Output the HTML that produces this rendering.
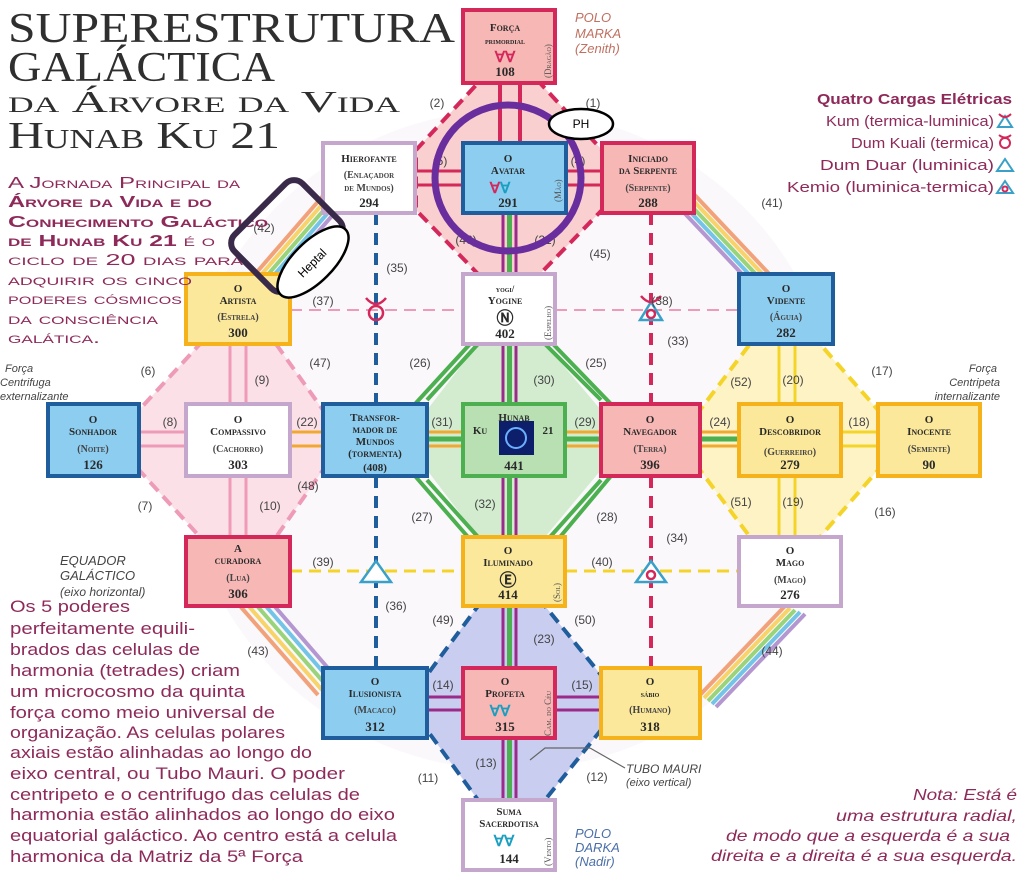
<!DOCTYPE html>
<html><head><meta charset="utf-8">
<style>
html,body{margin:0;padding:0;background:#fff;}
svg{display:block;}
.n{font-family:"Liberation Serif",serif;font-weight:bold;font-size:11px;fill:#2a2a2a;text-anchor:middle;font-variant:small-caps;}
.s{font-family:"Liberation Serif",serif;font-size:10px;fill:#444;text-anchor:middle;font-variant:small-caps;}
.num{font-family:"Liberation Sans",sans-serif;font-size:12px;fill:#444;text-anchor:middle;}
.lb{font-family:"Liberation Sans",sans-serif;font-size:12px;fill:#555;}
.vt{font-family:"Liberation Serif",serif;font-size:9px;fill:#555;font-variant:small-caps;}
.t{font-family:"Liberation Serif",serif;fill:#2f2f2f;}
.pp{font-family:"Liberation Sans",sans-serif;fill:#8e2a5a;}
</style></head><body>
<svg width="1026" height="873" viewBox="0 0 1026 873" xmlns="http://www.w3.org/2000/svg">
<rect width="1026" height="873" fill="#fff"/>
<ellipse cx="510" cy="440" rx="330" ry="330" fill="#fbf8fb"/>

<!-- octagon fills -->
<polygon points="478,83 540,83 602,150 602,210 540,274 478,274 416,210 416,150" fill="#f9cfcf" stroke="#d4285a" stroke-width="4" stroke-dasharray="12,7"/>
<polygon points="200,344 276,344 323,410 323,470 276,537 200,537 139,470 139,410" fill="#fbe0e8" stroke="#ee9bb8" stroke-width="4" stroke-dasharray="12,7"/>
<polygon points="478,344 545,344 601,410 601,470 545,537 478,537 427,470 427,410" fill="#d3ecd0"/>
<g fill="none" stroke="#4caf50" stroke-width="4">
<polyline points="478,344 427,400"/><polyline points="470,344 415,404"/>
<polyline points="545,344 601,400"/><polyline points="553,344 611,404"/>
<polyline points="427,480 478,537"/><polyline points="415,476 468,537"/>
<polyline points="601,480 550,537"/><polyline points="611,476 560,537"/>
</g>
<polygon points="750,344 820,344 878,410 878,470 820,537 750,537 700,470 700,410" fill="#fdf3c4" stroke="#f5d42a" stroke-width="4" stroke-dasharray="12,7"/>
<polygon points="478,606 545,606 601,675 601,730 545,800 478,800 427,730 427,675" fill="#c9cdef" stroke="#1f5d9c" stroke-width="4" stroke-dasharray="12,7"/>

<!-- rainbows -->
<g stroke-width="4" fill="none">
<line x1="250" y1="280" x2="328" y2="190" stroke="#f2a27a"/><line x1="254" y1="283" x2="332" y2="193" stroke="#f7d36a"/><line x1="258" y1="286" x2="336" y2="196" stroke="#9ad47a"/><line x1="262" y1="289" x2="340" y2="199" stroke="#74c4e8"/><line x1="266" y1="292" x2="344" y2="202" stroke="#b497d0"/>
<line x1="775" y1="280" x2="690" y2="190" stroke="#f2a27a"/><line x1="771" y1="283" x2="686" y2="193" stroke="#f7d36a"/><line x1="767" y1="286" x2="682" y2="196" stroke="#9ad47a"/><line x1="763" y1="289" x2="678" y2="199" stroke="#74c4e8"/><line x1="759" y1="292" x2="674" y2="202" stroke="#b497d0"/>
<line x1="240" y1="606" x2="318" y2="695" stroke="#f2a27a"/><line x1="246" y1="603" x2="322" y2="690" stroke="#f7d36a"/><line x1="252" y1="600" x2="326" y2="685" stroke="#9ad47a"/><line x1="258" y1="597" x2="330" y2="680" stroke="#74c4e8"/><line x1="264" y1="594" x2="334" y2="675" stroke="#b497d0"/>
<line x1="785" y1="606" x2="700" y2="695" stroke="#f2a27a"/><line x1="790" y1="608" x2="704" y2="698" stroke="#f7d36a"/><line x1="795" y1="610" x2="708" y2="701" stroke="#9ad47a"/><line x1="800" y1="612" x2="712" y2="704" stroke="#74c4e8"/><line x1="805" y1="614" x2="716" y2="707" stroke="#b497d0"/>
</g>

<!-- connectors -->
<g fill="none">
<line x1="500" y1="83" x2="500" y2="143" stroke="#d4285a" stroke-width="4"/><line x1="520" y1="83" x2="520" y2="143" stroke="#d4285a" stroke-width="4"/>
<line x1="415" y1="171" x2="463" y2="171" stroke="#d4285a" stroke-width="3"/><line x1="415" y1="185" x2="463" y2="185" stroke="#d4285a" stroke-width="3"/>
<line x1="566" y1="171" x2="602" y2="171" stroke="#d4285a" stroke-width="3"/><line x1="566" y1="185" x2="602" y2="185" stroke="#d4285a" stroke-width="3"/>
<line x1="503" y1="213" x2="503" y2="800" stroke="#9b2b8a" stroke-width="3"/><line x1="516" y1="213" x2="516" y2="800" stroke="#9b2b8a" stroke-width="3"/><line x1="509.5" y1="213" x2="509.5" y2="800" stroke="#4caf50" stroke-width="5"/>
<line x1="290" y1="310" x2="463" y2="310" stroke="#ee9bb8" stroke-width="2" stroke-dasharray="12,7"/><line x1="555" y1="310" x2="739" y2="310" stroke="#ee9bb8" stroke-width="2" stroke-dasharray="12,7"/>
<line x1="290" y1="571" x2="463" y2="571" stroke="#f5d42a" stroke-width="3" stroke-dasharray="12,7"/><line x1="565" y1="571" x2="739" y2="571" stroke="#f5d42a" stroke-width="3" stroke-dasharray="12,7"/>
<line x1="376" y1="213" x2="376" y2="404" stroke="#1f5d9c" stroke-width="4" stroke-dasharray="12,8"/><line x1="376" y1="476" x2="376" y2="668" stroke="#1f5d9c" stroke-width="4" stroke-dasharray="12,8"/>
<line x1="651" y1="213" x2="651" y2="404" stroke="#d4285a" stroke-width="4" stroke-dasharray="12,8"/><line x1="651" y1="476" x2="651" y2="668" stroke="#d4285a" stroke-width="4" stroke-dasharray="12,8"/>
<g stroke="#f0a830" stroke-width="3"><line x1="290" y1="432" x2="878" y2="432"/><line x1="290" y1="446" x2="878" y2="446"/></g>
<line x1="427" y1="439" x2="739" y2="439" stroke="#4caf50" stroke-width="5"/>
<g stroke="#ee9bb8" stroke-width="3"><line x1="139" y1="432" x2="186" y2="432"/><line x1="139" y1="446" x2="186" y2="446"/>
<line x1="230" y1="344" x2="230" y2="404"/><line x1="246" y1="344" x2="246" y2="404"/><line x1="230" y1="476" x2="230" y2="537"/><line x1="246" y1="476" x2="246" y2="537"/></g>
<g stroke="#f5d42a" stroke-width="3"><line x1="779" y1="344" x2="779" y2="404"/><line x1="795" y1="344" x2="795" y2="404"/><line x1="779" y1="476" x2="779" y2="537"/><line x1="795" y1="476" x2="795" y2="537"/>
<line x1="841" y1="432" x2="878" y2="432"/><line x1="841" y1="446" x2="878" y2="446"/></g>
<g stroke="#9b2b8a" stroke-width="3"><line x1="427" y1="697" x2="463" y2="697"/><line x1="427" y1="710" x2="463" y2="710"/><line x1="555" y1="697" x2="601" y2="697"/><line x1="555" y1="710" x2="601" y2="710"/></g>
<polyline points="590,748 545,748 530,760" stroke="#666" stroke-width="1.2"/><line x1="590" y1="748" x2="625" y2="768" stroke="#666" stroke-width="1.2"/>
</g>

<!-- charge symbols -->
<g fill="none" stroke-width="2.5">
<circle cx="376" cy="313" r="7" stroke="#d4285a"/><path d="M366,298 Q376,310 386,298" stroke="#d4285a"/>
<polygon points="651,302 640,320 662,320" stroke="#3aa0c8" fill="#fff"/><circle cx="651" cy="314" r="4" stroke="#d4285a"/><path d="M641,296 Q651,308 661,296" stroke="#d4285a"/>
<polygon points="376,561 361,582 391,582" stroke="#3aa0c8" fill="#fff"/>
<polygon points="651,561 636,582 666,582" stroke="#3aa0c8" fill="#fff"/><circle cx="651" cy="575" r="4" stroke="#d4285a"/>
</g>

<!-- nodes -->
<g stroke-width="4">
<rect x="463" y="10" width="92" height="73" fill="#f7b7b5" stroke="#d4285a"/>
<rect x="323" y="143" width="92" height="70" fill="#fff" stroke="#c5a6cc"/>
<rect x="463" y="143" width="103" height="70" fill="#8dcdf0" stroke="#1f5d9c"/>
<rect x="602" y="143" width="92" height="70" fill="#f7b7b5" stroke="#d4285a"/>
<rect x="186" y="274" width="104" height="70" fill="#fbe89a" stroke="#f5b21b"/>
<rect x="463" y="274" width="92" height="70" fill="#fff" stroke="#c5a6cc"/>
<rect x="739" y="274" width="94" height="70" fill="#8dcdf0" stroke="#1f5d9c"/>
<rect x="48" y="404" width="91" height="72" fill="#8dcdf0" stroke="#1f5d9c"/>
<rect x="186" y="404" width="104" height="72" fill="#fff" stroke="#c5a6cc"/>
<rect x="323" y="404" width="104" height="72" fill="#8dcdf0" stroke="#1f5d9c"/>
<rect x="463" y="404" width="102" height="72" fill="#b8e0b2" stroke="#4caf50"/>
<rect x="601" y="404" width="99" height="72" fill="#f7b7b5" stroke="#d4285a"/>
<rect x="739" y="404" width="102" height="72" fill="#fbe89a" stroke="#f5b21b"/>
<rect x="878" y="404" width="102" height="72" fill="#fbe89a" stroke="#f5b21b"/>
<rect x="186" y="537" width="104" height="69" fill="#f7b7b5" stroke="#d4285a"/>
<rect x="463" y="537" width="102" height="69" fill="#fbe89a" stroke="#f5b21b"/>
<rect x="739" y="537" width="102" height="69" fill="#fff" stroke="#c5a6cc"/>
<rect x="323" y="668" width="104" height="70" fill="#8dcdf0" stroke="#1f5d9c"/>
<rect x="463" y="668" width="92" height="70" fill="#f7b7b5" stroke="#d4285a"/>
<rect x="601" y="668" width="99" height="70" fill="#fbe89a" stroke="#f5b21b"/>
<rect x="463" y="800" width="92" height="70" fill="#fff" stroke="#c5a6cc"/>
</g>
<rect x="499" y="421" width="35" height="34" fill="#0d1f6b"/><circle cx="516" cy="438" r="10" fill="none" stroke="#6ab0ff" stroke-width="2"/>

<!-- node text -->
<g class="n">
<text x="505" y="31">Força</text><text x="505" y="44" style="font-size:9px">primordial</text><text x="505" y="62" style="fill:#d4285a;font-size:15px">∀∀</text><text x="505" y="76" style="font-size:13px">108</text>
<text x="369" y="162">Hierofante</text><text x="369" y="178" class="s">(Enlaçador</text><text x="369" y="191" class="s">de Mundos)</text><text x="369" y="207" style="font-size:13px">294</text>
<text x="508" y="162">O</text><text x="508" y="174">Avatar</text><text x="500" y="193" style="font-size:15px"><tspan fill="#d4285a">∀</tspan><tspan fill="#1a9fc0">∀</tspan></text><text x="508" y="207" style="font-size:13px">291</text>
<text x="648" y="162">Iniciado</text><text x="648" y="174">da Serpente</text><text x="648" y="191" class="s">(Serpente)</text><text x="648" y="207" style="font-size:13px">288</text>
<text x="238" y="292">O</text><text x="238" y="304">Artista</text><text x="238" y="320" class="s">(Estrela)</text><text x="238" y="337" style="font-size:13px">300</text>
<text x="505" y="292" style="font-size:9px">yogi/</text><text x="505" y="304">Yogine</text><text x="505" y="324" style="font-size:17px">Ⓝ</text><text x="505" y="338" style="font-size:13px">402</text>
<text x="786" y="292">O</text><text x="786" y="304">Vidente</text><text x="786" y="320" class="s">(Águia)</text><text x="786" y="337" style="font-size:13px">282</text>
<text x="93" y="423">O</text><text x="93" y="435">Sonhador</text><text x="93" y="452" class="s">(Noite)</text><text x="93" y="469" style="font-size:13px">126</text>
<text x="238" y="423">O</text><text x="238" y="435">Compassivo</text><text x="238" y="452" class="s">(Cachorro)</text><text x="238" y="469" style="font-size:13px">303</text>
<text x="375" y="421">Transfor-</text><text x="375" y="433">mador de</text><text x="375" y="445">Mundos</text><text x="375" y="457">(tormenta)</text><text x="375" y="471">(408)</text>
<text x="514" y="421">Hunab</text><text x="480" y="434">Ku</text><text x="548" y="434">21</text><text x="514" y="470" style="font-size:13px">441</text>
<text x="650" y="423">O</text><text x="650" y="435">Navegador</text><text x="650" y="452" class="s">(Terra)</text><text x="650" y="469" style="font-size:13px">396</text>
<text x="790" y="423">O</text><text x="790" y="435">Descobridor</text><text x="790" y="455" class="s">(Guerreiro)</text><text x="790" y="469" style="font-size:13px">279</text>
<text x="929" y="423">O</text><text x="929" y="435">Inocente</text><text x="929" y="452" class="s">(Semente)</text><text x="929" y="469" style="font-size:13px">90</text>
<text x="238" y="552">A</text><text x="238" y="564">curadora</text><text x="238" y="581" class="s">(Lua)</text><text x="238" y="598" style="font-size:13px">306</text>
<text x="508" y="554">O</text><text x="508" y="566">Iluminado</text><text x="508" y="586" style="font-size:17px">Ⓔ</text><text x="508" y="599" style="font-size:13px">414</text>
<text x="790" y="554">O</text><text x="790" y="566">Mago</text><text x="790" y="583" class="s">(Mago)</text><text x="790" y="599" style="font-size:13px">276</text>
<text x="375" y="685">O</text><text x="375" y="697">Ilusionista</text><text x="375" y="713" class="s">(Macaco)</text><text x="375" y="731" style="font-size:13px">312</text>
<text x="505" y="685">O</text><text x="505" y="697">Profeta</text><text x="500" y="716" style="font-size:15px;fill:#1a9fc0">∀∀</text><text x="505" y="731" style="font-size:13px">315</text>
<text x="650" y="685">O</text><text x="650" y="697" style="font-size:9px">sábio</text><text x="650" y="713" class="s">(Humano)</text><text x="650" y="731" style="font-size:13px">318</text>
<text x="509" y="815">Suma</text><text x="509" y="827">Sacerdotisa</text><text x="504" y="846" style="font-size:15px;fill:#1a9fc0">∀∀</text><text x="509" y="863" style="font-size:13px">144</text>
</g>
<g class="vt">
<text transform="translate(551,78) rotate(-90)">(Dragão)</text>
<text transform="translate(561,202) rotate(-90)">(Mão)</text>
<text transform="translate(551,340) rotate(-90)">(Espelho)</text>
<text transform="translate(560,602) rotate(-90)">(Sol)</text>
<text transform="translate(551,736) rotate(-90)">Cam. do Céu</text>
<text transform="translate(551,866) rotate(-90)">(Vento)</text>
</g>

<!-- number labels -->
<g class="num">
<text x="437" y="107">(2)</text><text x="593" y="107">(1)</text><text x="440" y="165">(5)</text><text x="578" y="165">(4)</text>
<text x="466" y="244">(46)</text><text x="545" y="244">(21)</text><text x="600" y="258">(45)</text><text x="772" y="207">(41)</text><text x="264" y="232">(42)</text>
<text x="397" y="272">(35)</text><text x="323" y="305">(37)</text><text x="662" y="305">(38)</text><text x="678" y="345">(33)</text>
<text x="320" y="367">(47)</text><text x="420" y="367">(26)</text><text x="596" y="367">(25)</text><text x="544" y="384">(30)</text>
<text x="148" y="375">(6)</text><text x="262" y="384">(9)</text><text x="882" y="375">(17)</text><text x="793" y="384">(20)</text><text x="741" y="386">(52)</text>
<text x="170" y="426">(8)</text><text x="307" y="426">(22)</text><text x="442" y="426">(31)</text><text x="585" y="426">(29)</text><text x="720" y="426">(24)</text><text x="859" y="426">(18)</text>
<text x="145" y="510">(7)</text><text x="270" y="510">(10)</text><text x="308" y="490">(48)</text><text x="485" y="508">(32)</text><text x="422" y="521">(27)</text><text x="607" y="521">(28)</text>
<text x="741" y="506">(51)</text><text x="793" y="506">(19)</text><text x="885" y="516">(16)</text><text x="677" y="542">(34)</text>
<text x="323" y="566">(39)</text><text x="602" y="566">(40)</text><text x="396" y="610">(36)</text><text x="443" y="624">(49)</text><text x="585" y="624">(50)</text><text x="544" y="643">(23)</text>
<text x="258" y="655">(43)</text><text x="772" y="655">(44)</text><text x="443" y="689">(14)</text><text x="582" y="689">(15)</text>
<text x="486" y="767">(13)</text><text x="597" y="781">(12)</text><text x="428" y="782">(11)</text>
</g>

<!-- title -->
<g class="t">
<text x="8" y="42" style="font-size:42px" textLength="447" lengthAdjust="spacingAndGlyphs">SUPERESTRUTURA</text>
<text x="8" y="81" style="font-size:42px" textLength="267" lengthAdjust="spacingAndGlyphs">GALÁCTICA</text>
<text x="8" y="112" style="font-size:31px;font-variant:small-caps" textLength="392" lengthAdjust="spacingAndGlyphs">da Árvore da Vida</text>
<text x="8" y="148" style="font-size:38px;font-variant:small-caps" textLength="272" lengthAdjust="spacingAndGlyphs">Hunab Ku 21</text>
</g>
<g class="pp" style="font-size:16px;font-variant:small-caps">
<text x="8" y="188" textLength="232" lengthAdjust="spacingAndGlyphs">A Jornada Principal da</text>
<text x="8" y="207" font-weight="bold" textLength="204" lengthAdjust="spacingAndGlyphs">Árvore da Vida e do</text>
<text x="8" y="227" font-weight="bold" textLength="260" lengthAdjust="spacingAndGlyphs">Conhecimento Galáctico</text>
<text x="8" y="246" textLength="207" lengthAdjust="spacingAndGlyphs"><tspan font-weight="bold">de Hunab Ku 21</tspan> é o</text>
<text x="8" y="265" textLength="235" lengthAdjust="spacingAndGlyphs">ciclo de 20 dias para</text>
<text x="8" y="285" textLength="184" lengthAdjust="spacingAndGlyphs">adquirir os cinco</text>
<text x="8" y="304" textLength="174" lengthAdjust="spacingAndGlyphs">poderes cósmicos</text>
<text x="8" y="324" textLength="150" lengthAdjust="spacingAndGlyphs">da consciência</text>
<text x="8" y="343" textLength="92" lengthAdjust="spacingAndGlyphs">galática.</text>
</g>

<g class="pp" style="font-size:17px">
<text x="10" y="612" textLength="120" lengthAdjust="spacingAndGlyphs">Os 5 poderes</text>
<text x="10" y="634" textLength="185" lengthAdjust="spacingAndGlyphs">perfeitamente equili-</text>
<text x="10" y="655" textLength="190" lengthAdjust="spacingAndGlyphs">brados das celulas de</text>
<text x="10" y="676" textLength="230" lengthAdjust="spacingAndGlyphs">harmonia (tetrades) criam</text>
<text x="10" y="697" textLength="235" lengthAdjust="spacingAndGlyphs">um microcosmo da quinta</text>
<text x="10" y="718" textLength="265" lengthAdjust="spacingAndGlyphs">força como meio universal de</text>
<text x="10" y="738" textLength="275" lengthAdjust="spacingAndGlyphs">organização. As celulas polares</text>
<text x="10" y="758" textLength="302" lengthAdjust="spacingAndGlyphs">axiais estão alinhadas ao longo do</text>
<text x="10" y="779" textLength="335" lengthAdjust="spacingAndGlyphs">eixo central, ou Tubo Mauri. O poder</text>
<text x="10" y="800" textLength="350" lengthAdjust="spacingAndGlyphs">centripeto e o centrifugo das celulas de</text>
<text x="10" y="820" textLength="385" lengthAdjust="spacingAndGlyphs">harmonia estão alinhados ao longo do eixo</text>
<text x="10" y="841" textLength="387" lengthAdjust="spacingAndGlyphs">equatorial galáctico. Ao centro está a celula</text>
<text x="10" y="862" textLength="293" lengthAdjust="spacingAndGlyphs">harmonica da Matriz da 5ª Força</text>
</g>

<g class="pp" style="font-size:15px">
<text x="817" y="104" font-weight="bold" textLength="195" lengthAdjust="spacingAndGlyphs">Quatro Cargas Elétricas</text>
<text x="826" y="126" textLength="168" lengthAdjust="spacingAndGlyphs">Kum (termica-luminica)</text>
<text x="851" y="148" textLength="143" lengthAdjust="spacingAndGlyphs">Dum Kuali (termica)</text>
<text x="820" y="170" textLength="174" lengthAdjust="spacingAndGlyphs">Dum Duar (luminica)</text>
<text x="787" y="192" textLength="207" lengthAdjust="spacingAndGlyphs">Kemio (luminica-termica)</text>
</g>
<g fill="none" stroke-width="2">
<polygon points="1005,116 998,127 1012,127" stroke="#3aa0c8"/><path d="M999,114 Q1005,120 1011,114" stroke="#d4285a"/>
<circle cx="1005" cy="143" r="5" stroke="#d4285a"/><path d="M999,135 Q1005,140 1011,135" stroke="#d4285a"/>
<polygon points="1005,159 997,171 1013,171" stroke="#3aa0c8"/>
<polygon points="1005,181 997,193 1013,193" stroke="#3aa0c8"/><circle cx="1005" cy="189" r="2.5" stroke="#d4285a"/>
</g>

<g class="pp" style="font-size:16px;font-style:italic">
<text x="913" y="800" textLength="104" lengthAdjust="spacingAndGlyphs">Nota: Está é</text>
<text x="836" y="821" textLength="181" lengthAdjust="spacingAndGlyphs">uma estrutura radial,</text>
<text x="726" y="841" textLength="284" lengthAdjust="spacingAndGlyphs">de modo que a esquerda é a sua</text>
<text x="711" y="861" textLength="306" lengthAdjust="spacingAndGlyphs">direita e a direita é a sua esquerda.</text>
</g>

<g class="lb" style="font-style:italic">
<text x="575" y="22" fill="#c07060" style="font-size:13px">POLO</text><text x="575" y="38" fill="#c07060" style="font-size:13px">MARKA</text><text x="575" y="53" fill="#c07060" style="font-size:13px">(Zenith)</text>
<text x="575" y="838" fill="#4a6fa8" style="font-size:13px">POLO</text><text x="575" y="852" fill="#4a6fa8" style="font-size:13px">DARKA</text><text x="575" y="866" fill="#4a6fa8" style="font-size:13px">(Nadir)</text>
<text x="626" y="773" fill="#444">TUBO MAURI</text><text x="626" y="786" fill="#444" style="font-size:11px">(eixo vertical)</text>
<text x="5" y="372" fill="#444" style="font-size:11px">Força</text><text x="0" y="386" fill="#444" style="font-size:11px">Centrifuga</text><text x="0" y="400" fill="#444" style="font-size:11px">externalizante</text>
<text x="997" y="372" fill="#444" style="font-size:11px;text-anchor:end">Força</text><text x="1000" y="386" fill="#444" style="font-size:11px;text-anchor:end">Centripeta</text><text x="1000" y="400" fill="#444" style="font-size:11px;text-anchor:end">internalizante</text>
<text x="60" y="565" fill="#444" style="font-size:13px">EQUADOR</text><text x="60" y="580" fill="#444" style="font-size:13px">GALÁCTICO</text><text x="60" y="596" fill="#444">(eixo horizontal)</text>
</g>

<!-- overlays -->
<circle cx="508" cy="178" r="73" fill="none" stroke="#6a2d9e" stroke-width="7"/>
<ellipse cx="581" cy="124" rx="32" ry="15" fill="#fff" stroke="#000" stroke-width="2.5"/>
<text x="581" y="128" style="font-family:'Liberation Sans',sans-serif;font-size:12px;text-anchor:middle">PH</text>
<rect x="-48" y="-38" width="96" height="76" rx="12" fill="none" stroke="#3a2a4a" stroke-width="6" transform="translate(287,236) rotate(-45)"/>
<ellipse cx="0" cy="0" rx="46" ry="20" fill="#fff" stroke="#000" stroke-width="2.5" transform="translate(313,262) rotate(-45)"/>
<text transform="translate(315,266) rotate(-45)" style="font-family:'Liberation Sans',sans-serif;font-size:12px;text-anchor:middle">Heptal</text>
</svg>
</body></html>
